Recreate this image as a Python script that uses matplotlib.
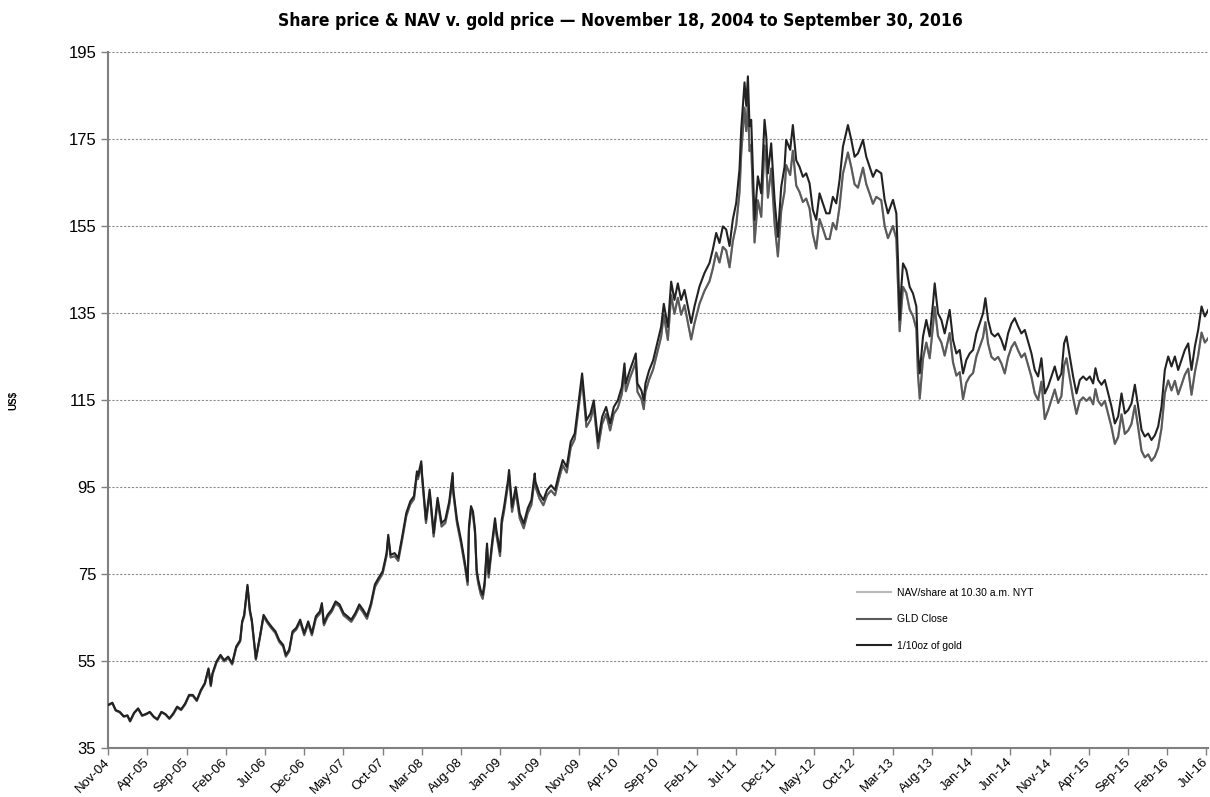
import matplotlib
matplotlib.use('Agg')
import matplotlib.pyplot as plt
from matplotlib.transforms import ScaledTranslation

# x position = months since Nov 18, 2004
months = [
    0.0, 0.55, 0.98, 1.49, 2.0, 2.47, 2.81, 3.32, 3.83, 4.34, 4.81, 5.32, 5.83, 6.29, 6.8, 7.31,
    7.82, 8.33, 8.8, 9.31, 9.82, 10.33, 10.8, 11.31, 11.82, 12.33, 12.8, 13.1, 13.31, 13.82, 14.33,
    14.8, 15.31, 15.82, 16.33, 16.84, 17.09, 17.35, 17.77, 18.07, 18.32, 18.84, 19.35, 19.82, 20.33,
    20.83, 21.34, 21.81, 22.32, 22.66,
    23.09, 23.51, 23.98, 24.49, 25.0, 25.51, 25.98, 26.49, 27.0, 27.25, 27.51, 27.98, 28.49, 29.0,
    29.51, 30.02, 30.49, 31.0, 31.51, 32.02, 32.49, 33.0, 33.51, 34.01, 34.48, 34.99, 35.5, 35.71,
    36.01, 36.52, 36.99, 37.5, 38.01, 38.52, 38.99, 39.37, 39.5, 39.92, 40.01, 40.52, 40.99, 41.5,
    42.0, 42.51, 42.98, 43.49, 43.92, 44.0, 44.47, 44.98, 45.49, 45.83, 46.0, 46.26, 46.51, 46.77,
    46.98, 47.19, 47.49, 47.75, 48.0, 48.3, 48.51, 48.98, 49.32, 49.49, 49.96, 50.17, 50.47, 50.98,
    51.11, 51.49, 51.96, 52.47, 52.98, 53.49, 53.96, 54.38, 54.47, 54.97, 55.48, 55.95, 56.46, 56.97,
    57.48, 57.95, 58.46, 58.97, 59.48, 59.95, 60.42, 60.97, 61.48, 61.91, 62.46, 62.97, 63.48, 63.99,
    64.46, 64.97, 65.48, 65.82, 65.99, 66.5, 66.96, 67.26, 67.47, 67.98, 68.28, 68.49, 68.96, 69.47,
    69.98, 70.49, 70.83,
    71.35, 71.77, 72.19, 72.62, 73.04, 73.47, 73.89, 74.32, 74.74, 75.38, 76.02, 76.66, 77.08, 77.51,
    77.93, 78.36, 78.78, 79.21, 79.63, 80.06, 80.48, 80.7, 81.12, 81.34, 81.55, 81.76, 81.97, 82.19,
    82.4, 82.82, 83.25, 83.67, 83.89, 84.1, 84.52, 84.95, 85.37, 85.8, 86.22, 86.43, 86.94, 87.28,
    87.71, 88.13, 88.56, 88.98, 89.41, 89.83, 90.26, 90.68, 91.11, 91.53, 91.96, 92.38, 92.81, 93.23,
    93.66,
    94.3, 94.73, 95.15, 95.58, 96.22, 96.64, 97.07, 97.49, 97.92, 98.55, 98.98, 99.4, 100.04, 100.47,
    100.68, 100.89, 101.11, 101.32, 101.74, 102.17, 102.59, 103.02, 103.23, 103.45, 103.87, 104.29,
    104.72, 105.14, 105.36, 105.78, 106.21, 106.63, 107.27, 107.69, 108.12, 108.55, 108.97, 109.39,
    109.82, 110.25, 110.67, 111.1, 111.52, 111.82, 112.16, 112.59, 113.01, 113.44, 113.86, 114.29,
    114.71, 115.14, 115.56, 115.99, 116.41,
    116.84, 117.26, 117.69, 118.11, 118.54, 118.96, 119.39, 119.81, 120.24, 120.66, 121.09, 121.51,
    121.85, 122.15, 122.58, 123.0, 123.43, 123.85, 124.28, 124.7, 125.13, 125.55, 125.85, 126.19,
    126.62, 127.04, 127.47, 127.89, 128.32, 128.74, 129.17, 129.59, 130.02, 130.44, 130.87, 131.29,
    131.72, 132.14, 132.57, 132.99, 133.42, 133.84, 134.27, 134.69, 135.12, 135.54, 135.97, 136.39,
    136.82, 137.24, 137.67, 138.09, 138.52, 138.94, 139.37, 139.79, 140.22,
]

# 1/10 oz of gold, US$
gold = [
    44.9, 45.4, 43.7, 43.3, 42.3, 42.5, 41.2, 43.1, 44.1, 42.5, 42.8, 43.3, 42.2, 41.6, 43.3, 42.8,
    41.8, 43.0, 44.5, 43.9, 45.2, 47.2, 47.2, 46.0, 48.3, 49.9, 53.3, 49.5, 52.2, 54.9, 56.4,
    55.2, 56.0, 54.5, 58.3, 59.8, 64.1, 65.6, 72.5, 66.8, 64.5, 55.6, 60.6, 65.6, 64.1,
    62.9, 61.8, 59.8, 58.7, 56.4,
    57.6, 61.8, 62.6, 64.5, 61.4, 64.1, 61.4, 65.3, 66.4, 68.3, 63.7, 65.6, 66.8, 68.7,
    68.0, 66.0, 65.3, 64.5, 66.0, 68.0, 66.8, 65.3, 68.3, 72.6, 74.1, 75.6, 79.8, 84.0,
    79.4, 79.8, 78.7, 83.7, 89.0, 91.7, 92.9, 98.6, 97.5, 100.9, 98.2, 87.5, 94.4, 84.4,
    92.5, 86.7, 87.5, 91.7, 98.2, 94.4, 87.5, 82.9, 77.5, 73.3, 86.0, 90.6, 89.4, 85.2,
    76.0, 73.6, 71.3, 70.2, 73.2, 82.0, 75.1, 82.8, 87.8, 85.1, 80.1, 87.4, 90.4, 96.6,
    98.9, 90.4, 95.0, 88.9, 86.6, 90.1, 92.0, 98.1, 96.2, 93.5, 92.0, 94.3, 95.4, 94.3,
    98.1, 101.2, 99.6, 105.4, 107.3, 114.2, 121.1, 110.3, 111.9, 114.9, 105.4, 111.1, 113.4, 109.6,
    113.4, 114.9, 118.0, 123.4, 118.8, 121.8, 124.1, 125.7, 118.8, 117.2, 114.9, 118.8, 121.8, 124.1,
    128.0, 131.8, 137.1,
    131.8, 142.2, 138.0, 141.8, 138.0, 140.3, 136.5, 132.7, 136.5, 141.1, 144.2, 146.5, 149.6, 153.4,
    151.1, 154.9, 154.2, 150.4, 156.5, 160.3, 168.0, 177.2, 188.0, 182.6, 189.4, 177.9, 179.4, 167.9,
    156.4, 166.4, 162.5, 179.4, 175.5, 167.1, 174.0, 161.0, 152.5, 164.0, 168.6, 174.8, 172.5, 178.2,
    170.1, 168.6, 166.3, 167.1, 164.8, 158.7, 156.4, 162.5, 160.2, 157.9, 157.9, 161.7, 160.2, 165.5,
    173.2,
    178.2, 174.8, 170.9, 171.7, 174.8, 170.9, 168.6, 166.3, 167.9, 167.1, 161.0, 157.9, 161.0, 157.9,
    147.2, 133.4, 141.0, 146.4, 144.9, 141.0, 139.5, 136.5, 125.7, 121.1, 129.6, 133.4,
    129.6, 137.2, 141.8, 134.9, 133.4, 130.3, 135.7, 128.8, 125.7, 126.5, 121.1, 124.2,
    125.7, 126.5, 130.3, 132.6, 134.9, 138.4, 133.4, 130.3, 129.6, 130.3, 128.8, 126.5,
    130.3, 132.6, 133.8, 131.9, 130.3,
    131.1, 128.4, 125.7, 121.9, 120.4, 124.6, 116.5, 118.1, 120.4, 122.7, 119.6, 121.1,
    128.0, 129.6, 125.0, 120.4, 116.5, 119.6, 120.4, 119.6, 120.4, 118.8, 122.3, 119.6,
    118.5, 119.6, 116.5, 113.5, 109.6, 111.2, 116.5, 111.9, 112.7, 114.2, 118.5, 113.5,
    108.1, 106.6, 107.3, 105.8, 106.9, 108.9, 113.5, 121.9, 125.0, 122.7, 125.0, 121.9,
    124.2, 126.5, 128.0, 121.9, 127.3, 131.1, 136.5, 134.2, 135.7,
]

# GLD close, US$
gld = [
    44.8, 45.3, 43.6, 43.2, 42.2, 42.4, 41.1, 43.0, 44.0, 42.4, 42.7, 43.2, 42.1, 41.5, 43.2, 42.7,
    41.7, 42.8, 44.3, 43.7, 45.0, 47.0, 47.0, 45.8, 48.1, 49.7, 53.0, 49.2, 51.9, 54.6, 56.1,
    54.9, 55.7, 54.2, 58.0, 59.5, 63.8, 65.3, 72.1, 66.4, 64.1, 55.3, 60.3, 65.2, 63.7,
    62.5, 61.4, 59.4, 58.3, 56.0,
    57.2, 61.4, 62.2, 64.0, 60.9, 63.6, 60.9, 64.8, 65.9, 67.8, 63.2, 65.1, 66.3, 68.2,
    67.5, 65.5, 64.8, 64.0, 65.5, 67.4, 66.2, 64.7, 67.7, 72.0, 73.5, 75.0, 79.2, 83.4,
    78.8, 79.1, 78.0, 83.0, 88.3, 91.0, 92.2, 97.9, 96.8, 100.1, 97.4, 86.7, 93.6, 83.6,
    91.7, 85.9, 86.7, 90.9, 97.4, 93.6, 86.7, 82.1, 76.7, 72.5, 85.2, 89.8, 88.6, 84.4,
    75.2, 72.8, 70.4, 69.3, 72.3, 81.1, 74.2, 81.9, 86.8, 84.1, 79.1, 86.4, 89.4, 95.6,
    97.9, 89.3, 93.9, 87.8, 85.5, 89.0, 90.9, 97.0, 95.1, 92.4, 90.8, 93.1, 94.2, 93.1,
    96.9, 100.0, 98.3, 104.1, 106.0, 112.8, 119.6, 108.8, 110.4, 113.4, 103.9, 109.5, 111.8, 108.0,
    111.8, 113.2, 116.3, 121.6, 117.0, 120.0, 122.2, 123.8, 116.9, 115.2, 112.9, 116.8, 119.7, 122.0,
    125.8, 129.5, 134.6,
    128.8, 139.1, 134.8, 138.5, 134.6, 136.8, 132.9, 128.9, 132.6, 137.1, 140.1, 142.3, 145.2, 148.9,
    146.6, 150.2, 149.4, 145.5, 151.5, 155.2, 162.7, 171.6, 182.2, 176.8, 183.4, 172.2, 173.6, 162.4,
    151.2, 160.9, 157.1, 173.5, 169.7, 161.5, 168.2, 155.6, 148.0, 158.5, 162.9, 169.0, 166.7, 172.3,
    164.3, 162.8, 160.5, 161.3, 159.0, 153.1, 149.8, 156.6, 154.4, 152.0, 152.0, 155.7, 154.2, 159.4,
    167.0,
    171.9, 168.5, 164.6, 163.8, 168.4, 164.6, 162.4, 160.1, 161.7, 160.9, 155.0, 152.2, 155.0, 152.0,
    141.6, 130.8, 136.0, 141.0, 139.6, 135.8, 134.3, 131.3, 120.8, 115.3, 124.5, 128.2,
    124.6, 132.0, 136.4, 129.7, 128.2, 125.2, 130.4, 123.7, 120.6, 121.4, 115.2, 119.0,
    120.4, 121.2, 125.0, 127.2, 129.4, 132.9, 128.0, 124.9, 124.2, 124.9, 123.4, 121.1,
    124.8, 127.1, 128.3, 126.4, 124.8,
    125.7, 123.0, 120.3, 116.5, 115.0, 119.2, 110.6, 112.6, 115.0, 117.4, 114.3, 115.9,
    122.9, 124.6, 120.0, 115.5, 111.8, 114.8, 115.6, 114.8, 115.6, 114.0, 117.5, 114.8,
    113.7, 114.8, 111.8, 108.8, 104.9, 106.5, 111.7, 107.2, 108.0, 109.5, 113.7, 108.7,
    103.3, 101.8, 102.5, 101.0, 102.0, 104.0, 108.5, 116.6, 119.5, 117.2, 119.4, 116.3,
    118.5, 120.8, 122.2, 116.2, 121.4, 125.2, 130.5, 128.2, 129.2,
]

# NAV/share at 10.30 a.m. NYT: indistinguishable from the GLD close at this scale
nav = list(gld)

x_labels = ["Nov-04", "Apr-05", "Sep-05", "Feb-06", "Jul-06", "Dec-06", "May-07", "Oct-07",
            "Mar-08", "Aug-08", "Jan-09", "Jun-09", "Nov-09", "Apr-10", "Sep-10", "Feb-11",
            "Jul-11", "Dec-11", "May-12", "Oct-12", "Mar-13", "Aug-13", "Jan-14", "Jun-14",
            "Nov-14", "Apr-15", "Sep-15", "Feb-16", "Jul-16"]
y_ticks = [35, 55, 75, 95, 115, 135, 155, 175, 195]

plt.rcParams['font.family'] = ['Liberation Sans', 'DejaVu Sans']

fig = plt.figure(figsize=(12.1, 7.97), dpi=100)
ax = fig.add_axes([0.0893, 0.0615, 0.9091, 0.8733])

ax.plot(months, nav, color='#b8b8b8', lw=1.5, label='NAV/share at 10.30 a.m. NYT', zorder=3)
ax.plot(months, gld, color='#5a5a5a', lw=1.5, label='GLD Close', zorder=4)
ax.plot(months, gold, color='#222222', lw=1.5, label='1/10oz of gold', zorder=5)

ax.set_xlim(0, 140.2)
ax.set_ylim(35, 195)
ax.set_yticks(y_ticks)
ax.set_yticklabels([str(v) for v in y_ticks], fontsize=12)
ax.set_xticks(range(0, 141, 5))
ax.set_xticklabels(x_labels, rotation=45, ha='right', rotation_mode='anchor', fontsize=9.5)
ax.tick_params(axis='both', color='#808080', length=5, width=1)
ax.tick_params(axis='x', pad=1)
shift = ScaledTranslation(-3 / 72, 0, fig.dpi_scale_trans)
for lab in ax.get_xticklabels():
    lab.set_transform(lab.get_transform() + shift)

ax.yaxis.grid(True, color='#8c8c8c', linestyle=(0, (2, 1.5)), lw=0.8)
ax.set_axisbelow(True)
for s in ['top', 'right']:
    ax.spines[s].set_visible(False)
for s in ['left', 'bottom']:
    ax.spines[s].set_color('#808080')
    ax.spines[s].set_linewidth(1.5)

ax.set_ylabel('US$', fontsize=7, fontweight='bold', labelpad=36)

fig.suptitle('Share price & NAV v. gold price \u2014 November 18, 2004 to September 30, 2016',
             x=0.513, y=0.985, fontsize=12.5, fontweight='bold', fontstretch='condensed',
             family=['DejaVu Sans'])

leg = ax.legend(loc='center left', bbox_to_anchor=(0.672, 0.185), frameon=False,
                fontsize=7.5, handlelength=3.3, labelspacing=1.6, handletextpad=0.6)

fig.savefig('out.png', dpi=100)
